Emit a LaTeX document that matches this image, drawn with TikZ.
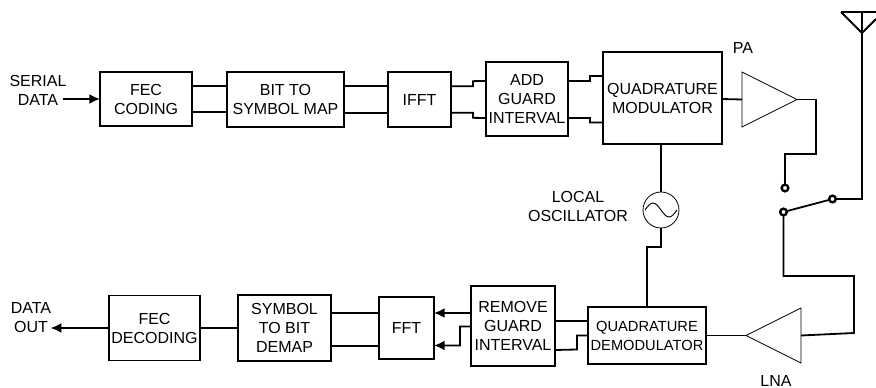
\documentclass[tikz,border=0pt]{standalone}
\usepackage{fontspec}
\setmainfont{Liberation Sans}
\usetikzlibrary{arrows.meta,shapes.geometric}
\begin{document}
\begin{tikzpicture}[x=0.75pt,y=-0.75pt,line width=1.35pt,
  box/.style={draw,outer sep=0pt,inner sep=0pt,align=center,
     font=\fontsize{12}{14.25}\selectfont},
  lbl/.style={align=center,inner sep=0pt,font=\fontsize{12}{14.25}\selectfont},
  amp/.style={draw,isosceles triangle,isosceles triangle stretches,line width=0.6pt,
     outer sep=0pt,inner sep=0pt,minimum width=41.25pt,minimum height=41.25pt},
  term/.style={draw,circle,fill=white,line width=1.8pt,outer sep=0pt,inner sep=0pt,minimum size=5pt},
  arrow/.style={-{Latex[length=8pt,width=7.5pt]}}]
\useasboundingbox (0,0) rectangle (876,388);
\node[lbl] (serial) at (38,90) {SERIAL\\DATA};
\node[box,minimum width=69pt,minimum height=40.5pt] (fec) at (146,99) {FEC\\CODING};
\node[box,minimum width=87.75pt,minimum height=41.25pt] (bit) at (285.5,99.5) {BIT TO\\SYMBOL MAP};
\node[box,minimum width=47.25pt,minimum height=41.25pt] (ifft) at (419.5,99.5) {IFFT};
\node[box,minimum width=61.5pt,minimum height=55.5pt] (add) at (527,99) {ADD\\GUARD\\INTERVAL};
\node[box,minimum width=89.25pt,minimum height=69pt] (mod) at (662.5,98) {QUADRATURE\\MODULATOR};
\node[amp,anchor=apex] (pa) at (797,99.5) {};
\node[lbl] (palbl) at (743,48) {PA};
\node[lbl] (osclbl) at (578,206) {LOCAL\\OSCILLATOR};
\node[draw,circle,line width=0.6pt,outer sep=0pt,minimum size=27pt] (osc) at (661,210) {};
\node[term] (swa) at (785,188) {};
\node[term] (swb) at (783.5,212) {};
\node[term] (swc) at (832.5,199) {};
\coordinate (ant) at (862,33);
\node[amp,anchor=apex,shape border rotate=180] (lna) at (746,335.5) {};
\node[lbl] (lnalbl) at (776,381) {LNA};
\node[box,minimum width=88.5pt,minimum height=42.75pt] (demod) at (647,335.5) {\fontsize{11}{14.25}\selectfont QUADRATURE\\\fontsize{11}{14.25}\selectfont DEMODULATOR};
\node[box,minimum width=63pt,minimum height=60pt] (rem) at (513,326) {REMOVE\\GUARD\\INTERVAL};
\node[box,minimum width=41.25pt,minimum height=46.5pt] (fft) at (406.5,328) {FFT};
\node[box,minimum width=69.75pt,minimum height=49.5pt] (sym) at (284.5,328) {SYMBOL\\TO BIT\\DEMAP};
\node[box,minimum width=68.25pt,minimum height=48.75pt] (dec) at (154.5,328) {FEC\\DECODING};
\node[lbl] (out) at (31,317.5) {DATA\\OUT};
\draw[arrow] ([xshift=-3pt]serial.east|-fec.west)--(fec.west);
\draw ([yshift=10pt]fec.east)--([yshift=10pt]fec.east-|bit.west);
\draw ([yshift=-10pt]fec.east)--([yshift=-10pt]fec.east-|bit.west);
\draw ([yshift=10pt]bit.east)--([yshift=10pt]bit.east-|ifft.west);
\draw ([yshift=-10pt]bit.east)--([yshift=-10pt]bit.east-|ifft.west);
\draw ([yshift=10pt]ifft.east)--++(22,0)--++(0,-5)--([yshift=13.5pt]add.west);
\draw ([yshift=-10pt]ifft.east)--++(22,0)--++(0,5)--([yshift=-14.25pt]add.west);
\draw ([yshift=13.5pt]add.east)--++(22,0)--++(0,-5)--([yshift=16.5pt]mod.west);
\draw ([yshift=-14.25pt]add.east)--++(22,0)--++(0,4.5)--([yshift=-18.4pt]mod.west);
\draw ([yshift=-0.75pt]mod.east)--(pa.lower side);
\draw (pa.apex)-|(816,154)-|(swa);
\draw (ant)|-(swc);
\draw (swb)--(swc);
\draw[line join=miter] (841,12)--(876,12) (841,12)--(ant)--(876,19) (862,12)--(ant);
\draw (mod.south-|osc.north)--(osc.north);
\draw (osc.south)--++(0,19)-|(demod.north);
\draw[line width=0.7pt] ([xshift=-12pt]osc.center) sin ++(8,-7) cos ++(8,7) sin ++(8,7) cos ++(8,-7);
\draw (swb)|-(854,276)--(854,333)--(lna.lower side);
\draw (lna.apex)--(demod.east);
\draw ([yshift=10.9pt]demod.west)--([yshift=3.75pt]rem.east);
\draw (demod.west)--++(-11,0)--++(0,14)--([yshift=-18pt]rem.east);
\draw[arrow] ([yshift=9.75pt]rem.west)--([yshift=11.25pt]fft.east);
\draw[arrow] ([yshift=-0.4pt]rem.west)--++(-11,0)--++(0,19)--([yshift=-13.1pt]fft.east);
\draw ([yshift=11.25pt]fft.west)--([yshift=11.25pt]sym.east);
\draw ([yshift=-13.5pt]fft.west)--([yshift=-13.5pt]sym.east);
\draw (sym.west)--(dec.east);
\draw[arrow] (dec.west)--([xshift=-1pt]out.east|-dec.west);
\end{tikzpicture}
\end{document}
